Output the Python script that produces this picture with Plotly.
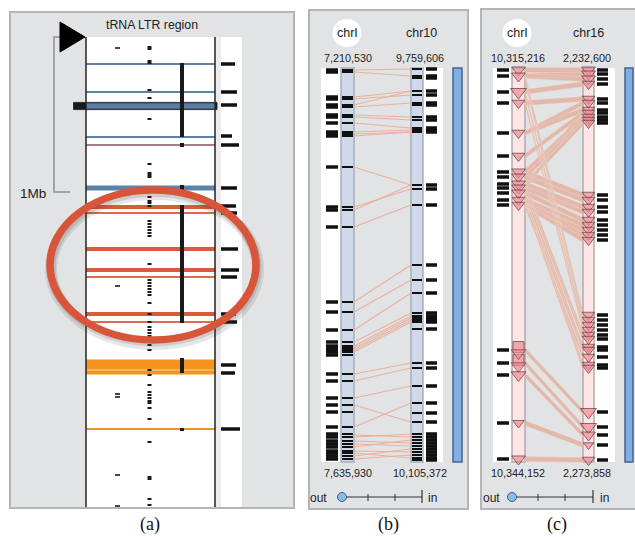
import plotly.graph_objects as go

# ======================= DATA (positions along each track) =======================
# Panel (a): region view
a_blue_thin = [64, 92, 137]
a_blue_wide = [188]
a_blue_selected = [106]
a_purple = [145]
a_red_wide = [207, 249, 270, 314]
a_red_thin = [213, 277, 322]
a_orange_block = [[359.5, 374.5]]
a_orange_gap = [370]
a_orange_thin = [429]
a_ltr_spans = [[63, 137], [143, 147], [185, 192], [205, 323], [358, 373], [428, 431]]
a_trna_col = [47, 49, 61, 63, 90, 98, 119, 164, 173, 175, 177, 189, 197, 201, 203, 206, 221,
              224, 227, 230, 233, 236, 264, 280, 283, 286, 289, 292, 295, 303, 314, 322, 327,
              330, 333, 336, 339, 342, 345, 350, 370, 375, 385, 392, 395, 398, 401, 403, 408,
              419, 442, 477, 479, 499, 505]
a_other_col = [48, 286, 337, 394, 397, 475, 506]
a_region_marks = [64, 92, 105, 136, 145, 188, 206, 213, 249, 270, 277, 314, 322, 365, 373, 429]
a_region_len = [14, 16, 16, 11, 18, 16, 15, 16, 17, 18, 16, 15, 16, 15, 14, 19]

# Panel (b): chrI vs chr10
b_left_ticks = [70, 72, 97, 99, 105, 107, 115, 117, 123, 132, 134, 136, 167, 207, 210, 227,
                302, 312, 330, 342, 346, 348, 350, 352, 355, 374, 381, 398, 405, 412, 427,
                434, 437, 441, 444, 447, 451, 453, 456, 459]
b_right_ticks = [69, 76, 78, 91, 95, 103, 105, 117, 120, 128, 130, 132, 185, 189, 205,
                 265, 280, 293, 313, 316, 318, 320, 322, 329, 363, 368, 386, 403, 413, 422,
                 434, 437, 440, 443, 446, 449, 452, 455, 458, 460]
b_links = [(70, 69), (72, 76), (97, 91), (99, 95), (105, 91), (107, 103), (115, 117), (117, 120),
           (123, 128), (132, 130), (134, 132), (136, 132), (167, 185), (207, 189), (210, 185),
           (227, 205), (302, 265), (312, 280), (330, 293), (342, 313), (346, 316), (348, 318),
           (350, 320), (352, 322), (374, 363), (381, 368), (398, 386), (405, 422), (427, 403),
           (435, 437), (437, 434), (441, 443), (444, 446), (447, 440), (451, 452), (453, 458),
           (456, 449), (459, 455)]

# Panel (c): chrI vs chr16 (feature position, feature extent)
c_left_pos = [70, 76, 92, 103, 133, 156, 172, 177, 184, 188, 193, 200, 205, 350, 363, 375, 423, 459]
c_left_len = [9, 9, 11, 8, 8, 8, 9, 9, 9, 9, 9, 8, 8, 13, 13, 10, 7, 9]
c_right_pos = [70, 74, 79, 84, 99, 103, 110, 113, 117, 120, 123, 195, 200, 207, 212, 220, 225,
               230, 235, 240, 315, 320, 325, 330, 335, 339, 347, 350, 357, 365, 368, 412, 427,
               435, 445, 460]
c_right_len = [9, 9, 9, 8, 8, 8, 8, 8, 8, 8, 8, 8, 8, 8, 8, 8, 8, 8, 8, 8, 8, 8, 8, 8, 8, 8,
               8, 8, 8, 8, 8, 11, 11, 9, 6, 8]
c_links = [(70, 70), (76, 74), (76, 79), (92, 84), (103, 99), (133, 103), (133, 110), (156, 113),
           (172, 117), (177, 120), (184, 123), (188, 110), (172, 195), (177, 200), (184, 207),
           (188, 212), (193, 220), (200, 225), (205, 230), (200, 235), (205, 240),
           (76, 315), (80, 320), (92, 325), (103, 330), (184, 335), (188, 339), (193, 347),
           (200, 350), (205, 357), (196, 365), (202, 368),
           (350, 412), (363, 427), (375, 435), (423, 445), (459, 460)]

# ======================= FIGURE =======================
W, H = 635, 537
fig = go.Figure()
shapes = []
annos = []

GRAYBG = "#e2e3e5"
BORDER = "#b4b5b7"


def rect(x0, y0, x1, y1, fill, line=None, lw=0, layer="below"):
    shapes.append(dict(type="rect", xref="x", yref="y", x0=x0, y0=y0, x1=x1, y1=y1,
                       fillcolor=fill, line=dict(color=line or fill, width=lw), layer=layer))


def text(x, y, s, size=11, color="#222", family="Liberation Sans, Arial, sans-serif"):
    annos.append(dict(x=x, y=y, xref="x", yref="y", text=s, showarrow=False,
                      font=dict(size=size, color=color, family=family),
                      xanchor="center", yanchor="middle"))


def hseg_trace(ys, x0, x1, color, width):
    xs, yy = [], []
    for y in ys:
        xs += [x0, x1, None]
        yy += [y, y, None]
    fig.add_trace(go.Scatter(x=xs, y=yy, mode="lines", line=dict(color=color, width=width),
                             hoverinfo="skip", showlegend=False))


def vseg_trace(spans, x, color, width):
    xs, yy = [], []
    for a, b in spans:
        xs += [x, x, None]
        yy += [a, b, None]
    fig.add_trace(go.Scatter(x=xs, y=yy, mode="lines", line=dict(color=color, width=width),
                             hoverinfo="skip", showlegend=False))


# ---------------- Panel (a) ----------------
rect(10, 12, 294, 508, GRAYBG, BORDER, 2)
rect(86, 37, 215, 507, "white")
rect(215, 37, 221, 507, "#ececee")
rect(221, 37, 242, 507, "white")

# bracket + big triangle
shapes.append(dict(type="path", xref="x", yref="y", path="M 61 37 L 54 37 L 54 192 L 70 192",
                   line=dict(color="#a3a3a3", width=2), layer="below"))
shapes.append(dict(type="path", xref="x", yref="y", path="M 60 22 L 85 37 L 60 52 Z",
                   fillcolor="black", line=dict(color="black", width=1), layer="above"))

# selected (highlighted) band with black outline
for y in a_blue_selected:
    fig.add_trace(go.Scatter(x=[73.5, 217, 217, 73.5, 73.5], y=[y - 3.6, y - 3.6, y + 3.6, y + 3.6, y - 3.6],
                             fill="toself", fillcolor="#1a1a1a", mode="lines",
                             line=dict(color="#1a1a1a", width=0.8), hoverinfo="skip", showlegend=False))
    fig.add_trace(go.Scatter(x=[86, 215.5, 215.5, 86, 86], y=[y - 2.7, y - 2.7, y + 2.7, y + 2.7, y - 2.7],
                             fill="toself", fillcolor="#5a7ea6", mode="lines",
                             line=dict(color="#5a7ea6", width=0), hoverinfo="skip", showlegend=False))

hseg_trace(a_blue_thin, 86, 215, "#5e82aa", 2)
hseg_trace(a_blue_wide, 86, 215, "#5e82aa", 5)
hseg_trace(a_purple, 86, 215, "#a47e94", 2)
hseg_trace(a_red_wide, 86, 215, "#dc5a3c", 4)
hseg_trace(a_red_thin, 86, 215, "#e06a4c", 2)
for a, b in a_orange_block:
    fig.add_trace(go.Scatter(x=[86, 215, 215, 86, 86], y=[a, a, b, b, a], fill="toself",
                             fillcolor="#f5931f", mode="lines", line=dict(width=0, color="#f5931f"),
                             hoverinfo="skip", showlegend=False))
hseg_trace(a_orange_gap, 86, 215, "#fbd9a8", 1)
hseg_trace(a_orange_thin, 86, 215, "#f5931f", 2)

# LTR vertical column
vseg_trace(a_ltr_spans, 182, "#1a1a1a", 4)
# tRNA / other dashes
hseg_trace(a_trna_col, 147.5, 151.5, "#1a1a1a", 2)
hseg_trace(a_other_col, 115, 120, "#1a1a1a", 1.6)

# region-mark bars in the right strip
xs, yy = [], []
for y, L in zip(a_region_marks, a_region_len):
    xs += [221, 221 + L, None]
    yy += [y, y, None]
fig.add_trace(go.Scatter(x=xs, y=yy, mode="lines", line=dict(color="#111", width=3.5),
                         hoverinfo="skip", showlegend=False))

# track borders
shapes.append(dict(type="line", xref="x", yref="y", x0=86, x1=86, y0=37, y1=507,
                   line=dict(color="#222", width=1.5), layer="above"))
shapes.append(dict(type="line", xref="x", yref="y", x0=215, x1=215, y0=37, y1=507,
                   line=dict(color="#222", width=1.5), layer="above"))

# highlight ellipse with soft shadow
shapes.append(dict(type="circle", xref="x", yref="y", x0=51, y0=194, x1=258, y1=344,
                   line=dict(color="rgba(60,60,60,0.13)", width=12), layer="above"))
shapes.append(dict(type="circle", xref="x", yref="y", x0=51, y0=192.5, x1=257, y1=342,
                   line=dict(color="rgba(60,60,60,0.15)", width=9), layer="above"))
shapes.append(dict(type="circle", xref="x", yref="y", x0=50, y0=190, x1=256, y1=340,
                   line=dict(color="#d9553a", width=7.5), layer="above"))

text(152, 25, "tRNA LTR region", 12.3)
text(33, 193, "1Mb", 13.5)
text(150, 524, "(a)", 18, "#111", "Liberation Serif, Times New Roman, serif")


# ---------------- Panel (b) and (c) common pieces ----------------
def pair_panel(px0, px1, top, lbar, rbar, lwhite, rwhite, bar_fill, bar_line, scroll_x,
               lname, rname, ltop, rtop, lbot, rbot, lname_x, rname_x, slider, label, label_x):
    rect(px0, top, px1, 509, GRAYBG, BORDER, 2)
    rect(lwhite, 68, lbar[0], 462, "white")
    rect(rbar[1], 68, rwhite, 462, "white")
    rect(lbar[0], 68, lbar[1], 462, bar_fill, bar_line, 1.5)
    rect(rbar[0], 68, rbar[1], 462, bar_fill, bar_line, 1.5)
    rect(scroll_x[0], 68, scroll_x[1], 462, "#7fb0e1", "#45648a", 1.5)
    # chromosome name (left one highlighted by white circle)
    shapes.append(dict(type="circle", xref="x", yref="y", x0=lname_x - 14.5, x1=lname_x + 14.5,
                       y0=19, y1=47, fillcolor="white", line=dict(width=0), layer="below"))
    text(lname_x, 33, lname, 12.5)
    text(rname_x, 33, rname, 12.5)
    text(lname_x + 1, 58, ltop, 10.8)
    text(rname_x - 1, 58, rtop, 10.8)
    text(lname_x + 1, 473, lbot, 10.8)
    text(rname_x - 1, 473, rbot, 10.8)
    # zoom slider
    sx0, sx1, t1, t2, out_x, in_x = slider
    shapes.append(dict(type="line", xref="x", yref="y", x0=sx0, x1=sx1, y0=497, y1=497,
                       line=dict(color="#333", width=1), layer="above"))
    for t in (t1, t2):
        shapes.append(dict(type="line", xref="x", yref="y", x0=t, x1=t, y0=494, y1=501,
                           line=dict(color="#333", width=1), layer="above"))
    shapes.append(dict(type="line", xref="x", yref="y", x0=sx1, x1=sx1, y0=490, y1=503,
                       line=dict(color="#333", width=1.2), layer="above"))
    shapes.append(dict(type="circle", xref="x", yref="y", x0=sx0 - 4.5, x1=sx0 + 4.5, y0=492.5,
                       y1=501.5, fillcolor="#8bbbe9", line=dict(color="#3f5f85", width=1), layer="above"))
    text(out_x, 498, "out", 12)
    text(in_x, 498, "in", 12)
    text(label_x, 524, label, 18, "#111", "Liberation Serif, Times New Roman, serif")


# ---------------- Panel (b) ----------------
B_L = (341, 354)
B_R = (411, 423)
pair_panel(309, 468, 10, B_L, B_R, 321, 443, "#cfd9ea", "#a8b0bc", (453, 462),
           "chrI", "chr10", "7,210,530", "9,759,606", "7,635,930", "10,105,372", 347, 421,
           (342, 422, 368, 395, 318, 432), "(b)", 388)

xs, yy = [], []
for l, r in b_links:
    xs += [B_L[1], B_R[0], None]
    yy += [l, r, None]
fig.add_trace(go.Scatter(x=xs, y=yy, mode="lines", line=dict(color="#e8b29c", width=1.1),
                         hoverinfo="skip", showlegend=False))
hseg_trace(b_left_ticks, B_L[0] + 1, B_L[1] - 1, "#111", 2)
hseg_trace(b_right_ticks, B_R[0] + 1, B_R[1] - 1, "#111", 2)
hseg_trace(b_left_ticks, 326, 338, "#111", 3.5)
hseg_trace(b_right_ticks, 426, 437, "#111", 3.5)

# ---------------- Panel (c) ----------------
C_L = (512, 525)
C_R = (583, 594)
pair_panel(481, 645, 9, C_L, C_R, 493, 615, "#fde5e5", "#b3abab", (625, 633),
           "chrI", "chr16", "10,315,216", "2,232,600", "10,344,152", "2,273,858", 517, 588,
           (512, 593, 538, 565, 491, 604), "(c)", 557)

xs, yy = [], []
hw = 2.4
for l, r in c_links:
    xs += [C_L[1], C_R[0], C_R[0], C_L[1], C_L[1], None]
    yy += [l - hw, r - hw, r + hw, l + hw, l - hw, None]
fig.add_trace(go.Scatter(x=xs, y=yy, mode="lines", fill="toself", fillcolor="rgba(224,168,145,0.72)",
                         line=dict(color="rgba(240,215,205,0.6)", width=0.5),
                         hoverinfo="skip", showlegend=False))

# labels
hseg_trace(c_left_pos, 497, 509, "#111", 3.5)
hseg_trace(c_right_pos, 597, 608, "#111", 3.5)


def tri_trace(xc, pos, lens):
    small = [(p, L) for p, L in zip(pos, lens) if L < 12]
    big = [(p, L) for p, L in zip(pos, lens) if L >= 12]
    mk = dict(color="#f18a93", line=dict(color="#5b2f37", width=1))
    if big:
        # large features: box with a downward point
        fig.add_trace(go.Scatter(x=[xc] * len(big), y=[p - 3 for p, _ in big], mode="markers",
                                 marker=dict(symbol="square", size=[L - 2 for _, L in big], **mk),
                                 hoverinfo="skip", showlegend=False))
        fig.add_trace(go.Scatter(x=[xc] * len(big), y=[p + 3 for p, _ in big], mode="markers",
                                 marker=dict(symbol="triangle-down", size=[L for _, L in big],
                                             color="#f18a93", line=dict(color="#5b2f37", width=0.8)),
                                 hoverinfo="skip", showlegend=False))
    fig.add_trace(go.Scatter(x=[xc] * len(small), y=[p for p, _ in small], mode="markers",
                             marker=dict(symbol="triangle-down", size=[L + 3 for _, L in small], **mk),
                             hoverinfo="skip", showlegend=False))


tri_trace((C_L[0] + C_L[1]) / 2, c_left_pos, c_left_len)
tri_trace((C_R[0] + C_R[1]) / 2, c_right_pos, c_right_len)

fig.update_layout(
    width=W, height=H, margin=dict(l=0, r=0, t=0, b=0),
    paper_bgcolor="white", plot_bgcolor="white",
    xaxis=dict(range=[0, W], visible=False, fixedrange=True),
    yaxis=dict(range=[H, 0], visible=False, fixedrange=True),
    shapes=shapes, annotations=annos, showlegend=False,
)
fig.write_html("out.html", config={"displayModeBar": False},
               post_script="document.body.style.margin='0px';document.body.style.padding='0px';")
